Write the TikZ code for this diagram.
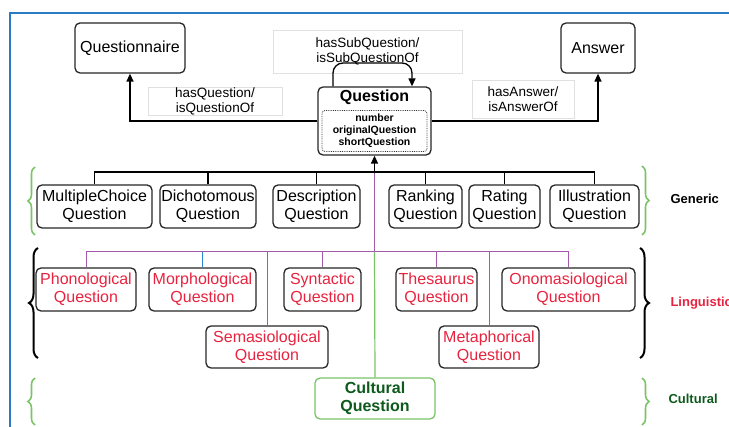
\documentclass[tikz,border=0pt]{standalone}
\usepackage{fontspec}
\setmainfont{Liberation Sans}
\usetikzlibrary{arrows.meta,decorations.pathreplacing}
\definecolor{frameblue}{HTML}{2B7BC4}
\definecolor{lred}{HTML}{E8233F}
\definecolor{lpurple}{HTML}{A45AAA}
\definecolor{lgreen}{HTML}{79C466}
\definecolor{dgreen}{HTML}{0E5A1C}
\definecolor{lblue}{HTML}{2A86D0}
\begin{document}
\begin{tikzpicture}[x=1pt,y=-1pt,
  box/.style={draw=black!85,line width=1.3pt,rounded corners=5pt,fill=white,align=center,inner sep=0pt,font=\fontsize{16}{18}\selectfont},
  redbox/.style={box,text=lred},
  lbl/.style={draw=black!12,line width=0.6pt,fill=white,align=center,inner sep=0pt,font=\fontsize{13.5}{15}\selectfont},
  conn/.style={line width=1.3pt,black},
  tip/.style={-{Triangle[width=7pt,length=8pt]}},
  pline/.style={line width=1pt,lpurple},
  gbrace/.style={decorate,decoration={brace,amplitude=7pt},line width=1.6pt,lgreen},
  bbrace/.style={decorate,decoration={brace,amplitude=9pt},line width=2pt,black},
  side/.style={font=\fontsize{13}{15}\selectfont\bfseries,anchor=west}
]
\useasboundingbox (0,0) rectangle (729,427);
% frame
\draw[frameblue,line width=1.8pt] (10,427) -- (10,13) -- (729,13);

% labels
\node[lbl,minimum width=189pt,minimum height=43pt] (subl) at (367.5,51.5) {hasSubQuestion/\\isSubQuestionOf};
\node[lbl,minimum width=134pt,minimum height=28pt] (ql) at (215,101) {hasQuestion/\\isQuestionOf};
\node[lbl,minimum width=102pt,minimum height=38pt] (al) at (523,99) {hasAnswer/\\isAnswerOf};

% top boxes
\node[box,minimum width=110pt,minimum height=50pt] (qnaire) at (130,48) {Questionnaire};
\node[box,minimum width=74pt,minimum height=50pt] (answer) at (598,48) {Answer};
\node[box,minimum width=113pt,minimum height=68pt] (question) at (374.5,121) {};
\node[font=\fontsize{16}{18}\selectfont\bfseries,inner sep=0pt] (qtitle) at (374.5,97) {Question};
\node[draw=black!80,densely dotted,line width=0.8pt,rounded corners=3pt,minimum width=105pt,minimum height=41pt,align=center,inner sep=0pt,font=\fontsize{10.5}{12}\selectfont\bfseries] (qattr) at (374.5,131) {number\\originalQuestion\\shortQuestion};

% generic
\node[box,minimum width=115pt,minimum height=43pt] (mc) at (94.5,206.5) {MultipleChoice\\Question};
\node[box,minimum width=96pt,minimum height=43pt] (dich) at (208,206.5) {Dichotomous\\Question};
\node[box,minimum width=87pt,minimum height=43pt] (desc) at (316.5,206.5) {Description\\Question};
\node[box,minimum width=73pt,minimum height=43pt] (rank) at (425.5,206.5) {Ranking\\Question};
\node[box,minimum width=71pt,minimum height=43pt] (rate) at (504.5,206.5) {Rating\\Question};
\node[box,minimum width=89pt,minimum height=43pt] (illu) at (594.5,206.5) {Illustration\\Question};

% linguistic
\node[redbox,minimum width=100pt,minimum height=43pt] (phon) at (86,289.5) {Phonological\\Question};
\node[redbox,minimum width=107pt,minimum height=43pt] (morph) at (202.5,289.5) {Morphological\\Question};
\node[redbox,minimum width=77pt,minimum height=43pt] (synt) at (322.5,289.5) {Syntactic\\Question};
\node[redbox,minimum width=81pt,minimum height=43pt] (thes) at (436.5,289.5) {Thesaurus\\Question};
\node[redbox,minimum width=133pt,minimum height=43pt] (onom) at (568.5,289.5) {Onomasiological\\Question};
\node[redbox,minimum width=122pt,minimum height=42pt] (sema) at (267,347) {Semasiological\\Question};
\node[redbox,minimum width=100pt,minimum height=42pt] (meta) at (489,347) {Metaphorical\\Question};

% cultural
\node[box,draw=lgreen,text=dgreen,font=\fontsize{16}{18}\selectfont\bfseries,minimum width=120pt,minimum height=41pt] (cult) at (375,398.5) {Cultural\\Question};

% buses
\coordinate (gbus) at (374.5,172);
\coordinate (lbus) at (374.5,252);

% self loop
\draw[conn,tip,rounded corners=10pt] (question.north -| 333,0) -- (333,63) -- (412,63) -- (question.north -| 412,0);

% question to questionnaire / answer
\draw[conn,tip] (question.west) -| (qnaire.south);
\draw[conn,tip] (question.east) -| (answer.south);

% linguistic bus
\draw[pline] (lbus) -- (gbus);
\draw[pline] (phon.north) -- (phon.north |- lbus) -- (onom.north |- lbus) -- (onom.north);
\draw[line width=1pt,lblue] (morph.north) -- (morph.north |- lbus);
\draw[pline] (sema.north) -- (sema.north |- lbus);
\draw[pline] (synt.north) -- (synt.north |- lbus);
\draw[pline] (thes.north) -- (thes.north |- lbus);
\draw[pline] (meta.north) -- (meta.north |- lbus);
\draw[line width=1.2pt,lgreen] (lbus) -- (cult.north);

% generic bus
\draw[conn] (mc.north) -- (mc.north |- gbus) -- (illu.north |- gbus) -- (illu.north);
\draw[conn] (dich.north) -- (dich.north |- gbus);
\draw[conn] (desc.north) -- (desc.north |- gbus);
\draw[conn] (rank.north) -- (rank.north |- gbus);
\draw[conn] (rate.north) -- (rate.north |- gbus);
\draw[conn,tip] (gbus) -- (question.south);

% braces
\draw[gbrace] (35,235) -- (35,167);
\draw[bbrace] (38,358) -- (38,248);
\draw[gbrace] (35,425) -- (35,378);
\draw[gbrace] (642,166) -- (642,235);
\draw[bbrace] (640,248) -- (640,358);
\draw[gbrace] (642,378) -- (642,425);

% side labels
\node[side] (lgen) at (667,199) {Generic};
\node[side,text=lred] (lling) at (667,303) {Linguistic};
\node[side,text=dgreen] (lcult) at (665,399) {Cultural};
\end{tikzpicture}
\end{document}
